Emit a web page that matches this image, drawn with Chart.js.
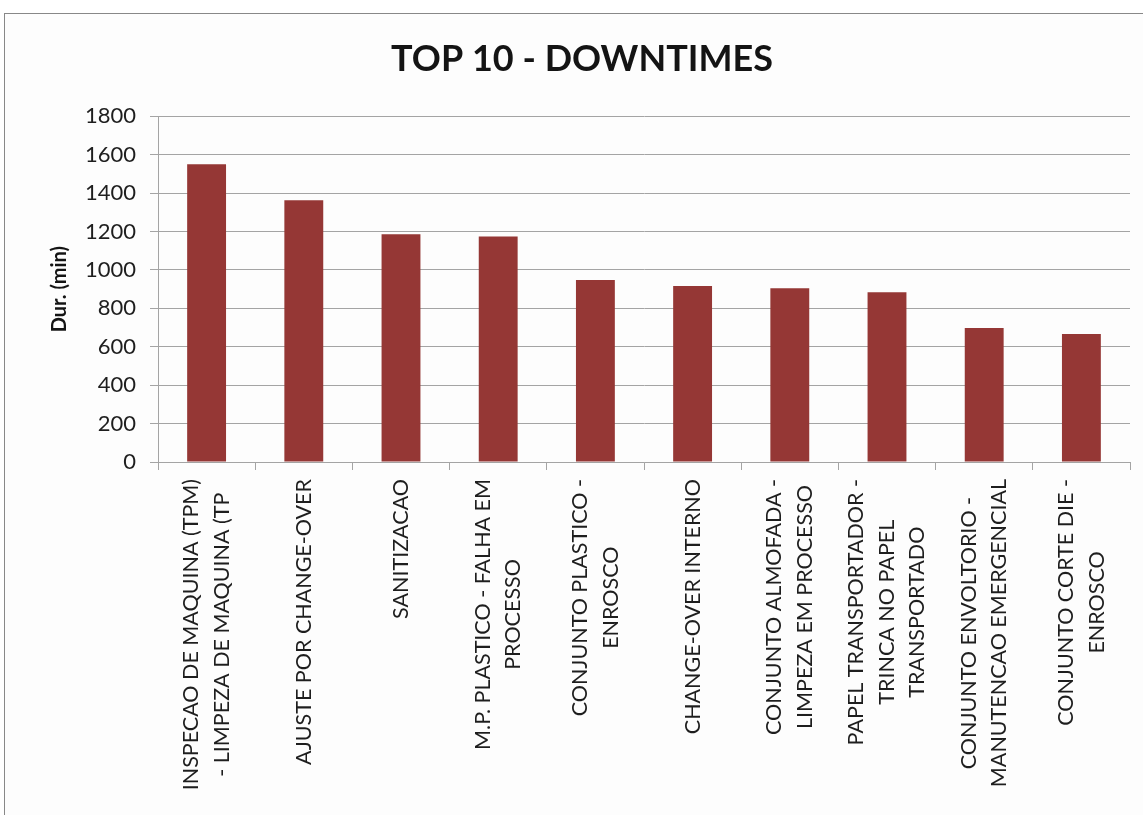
<!DOCTYPE html>
<html lang="pt">
<head>
<meta charset="UTF-8">
<title>Top 10 - Downtimes</title>
<script src="https://cdn.jsdelivr.net/npm/chart.js"></script>
<style>
    html, body {
        margin: 0;
        padding: 0;
        width: 1143px;
        height: 815px;
        overflow: hidden;
        background: #fff;
    }
    .moldura {
        position: absolute;
        left: 4px;
        top: 13px;
        width: 1200px;
        height: 900px;
        border: 1px solid #888;
        background: #fdfdfd;
    }
    #grafico {
        position: absolute;
        left: 0;
        top: 0;
    }
</style>
</head>
<body>
<div class="moldura"></div>
<canvas id="grafico" width="1143" height="815"></canvas>

<script>
    // categorias (cada uma quebrada em linhas como no original)
    const categorias = [
        ["INSPECAO DE MAQUINA (TPM)", "- LIMPEZA DE MAQUINA (TP"],
        ["AJUSTE POR CHANGE-OVER"],
        ["SANITIZACAO"],
        ["M.P. PLASTICO - FALHA EM", "PROCESSO"],
        ["CONJUNTO PLASTICO -", "ENROSCO"],
        ["CHANGE-OVER INTERNO"],
        ["CONJUNTO ALMOFADA -", "LIMPEZA EM PROCESSO"],
        ["PAPEL TRANSPORTADOR -", "TRINCA NO PAPEL", "TRANSPORTADO"],
        ["CONJUNTO ENVOLTORIO -", "MANUTENCAO EMERGENCIAL"],
        ["CONJUNTO CORTE DIE -", "ENROSCO"]
    ];
    const duracoes = [1550, 1363, 1185, 1174, 947, 916, 905, 884, 697, 666];
    const eixoY = { min: 0, max: 1800, passo: 200 };

    const corTexto = '#1e1e1e';
    const corGrade = '#a4a4a4';
    const fonteRotulo = 21.5;
    const alturaLinha = 30.5;

    // desenha os rotulos do eixo x centralizados linha a linha (como no Excel)
    const rotulosPlugin = {
        id: 'rotulos',
        afterDraw(chart) {
            const ctx = chart.ctx;
            const x = chart.scales.x;
            ctx.save();
            ctx.font = fonteRotulo + 'px Lato';
            ctx.fillStyle = corTexto;
            ctx.textAlign = 'center';
            ctx.textBaseline = 'middle';
            categorias.forEach((linhas, i) => {
                const px = x.getPixelForValue(i);
                const larg = Math.max(...linhas.map(l => ctx.measureText(l).width));
                ctx.save();
                ctx.translate(px, x.top + 17);
                ctx.rotate(-Math.PI / 2);
                linhas.forEach((l, j) => {
                    ctx.fillText(l, -larg / 2, (j - (linhas.length - 1) / 2) * alturaLinha);
                });
                ctx.restore();
            });
            ctx.restore();
        }
    };

    function desenhar() {
        const ctx = document.getElementById('grafico').getContext('2d');
        new Chart(ctx, {
            type: 'bar',
            data: {
                labels: categorias,
                datasets: [{
                    label: 'Dur. (min)',
                    data: duracoes,
                    backgroundColor: '#953735',
                    barPercentage: 0.8,
                    categoryPercentage: 0.5
                }]
            },
            options: {
                responsive: false,
                animation: false,
                layout: { padding: { left: 34, right: 13, top: 0, bottom: 0 } },
                plugins: {
                    legend: { display: false },
                    tooltip: { enabled: false },
                    title: {
                        display: true,
                        text: 'TOP 10 - DOWNTIMES',
                        color: '#141414',
                        font: { family: 'Lato', size: 36, weight: 'bold', lineHeight: 1.2 },
                        padding: { top: 38, bottom: 35 }
                    }
                },
                scales: {
                    x: {
                        offset: true,
                        grid: { offset: true, drawOnChartArea: false, drawTicks: true, tickLength: 8, color: corGrade },
                        border: { color: corGrade },
                        ticks: { color: 'transparent', maxRotation: 90, minRotation: 90, font: { family: 'Lato', size: fonteRotulo } },
                        afterFit: s => { s.height = 815 - 462; }
                    },
                    y: {
                        min: eixoY.min,
                        max: eixoY.max,
                        ticks: {
                            stepSize: eixoY.passo,
                            color: corTexto,
                            padding: 14,
                            font: { family: 'Lato', size: 22 },
                            callback: v => String(v)
                        },
                        grid: { color: corGrade, tickLength: 8 },
                        border: { color: corGrade },
                        title: {
                            display: true,
                            text: 'Dur. (min)',
                            color: '#141414',
                            font: { family: 'Lato', size: 20, weight: 'bold', lineHeight: 1.2 },
                            padding: { top: 14, bottom: 0 }
                        },
                        afterFit: s => { s.width = 158 - 34; }
                    }
                }
            },
            plugins: [rotulosPlugin]
        });
    }

    document.fonts.load('21px Lato').then(desenhar, desenhar);
</script>
</body>
</html>
